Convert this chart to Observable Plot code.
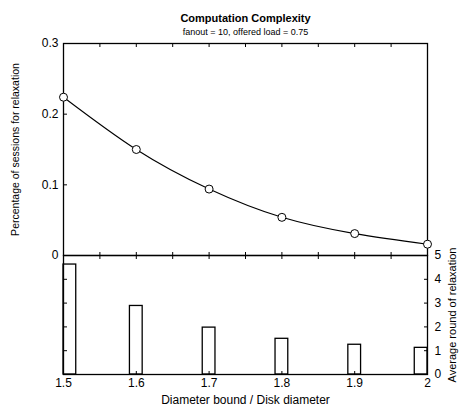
<!DOCTYPE html>
<html>
<head>
<meta charset="utf-8">
<script src="https://cdn.jsdelivr.net/npm/d3@7"></script>
<script src="https://cdn.jsdelivr.net/npm/@observablehq/plot@0.6"></script>
<style>
  html, body { margin: 0; padding: 0; background: white; }
  #wrap { position: relative; width: 459px; height: 414px; overflow: hidden; background: white; }
  #wrap svg { position: absolute; left: 0; background: transparent; }
</style>
</head>
<body>
<div id="wrap"></div>
<script>
const title = "Computation Complexity";
const subtitle = "fanout = 10, offered load = 0.75";
const xLabel = "Diameter bound / Disk diameter";
const yLabelTop = "Percentage of sessions for relaxation";
const yLabelBottom = "Average round of relaxation";

const bounds = [1.5, 1.6, 1.7, 1.8, 1.9, 2.0];
const pctSessions = [0.224, 0.150, 0.094, 0.054, 0.031, 0.016];
const avgRounds = [4.62, 2.88, 1.97, 1.50, 1.25, 1.12];

const xTicks = [1.5, 1.6, 1.7, 1.8, 1.9, 2];
const xMinorTicks = [1.55, 1.6, 1.65, 1.7, 1.75, 1.8, 1.85, 1.9, 1.95];
const yTicksTop = [0, 0.1, 0.2, 0.3];
const yTicksBottom = [0, 1, 2, 3, 4, 5];

const font = "'Liberation Sans', Arial, Helvetica, sans-serif";
const xDomain = [1.5, 2];
const barW = 0.0175;

const pts = bounds.map((b, i) => ({x: b, y: pctSessions[i]}));
const bars = bounds.map((b, i) => {
  const x1 = Math.min(Math.max(b - barW / 2, xDomain[0]), xDomain[1] - barW);
  return {x1, x2: x1 + barW, r: avgRounds[i]};
});

const topPlot = Plot.plot({
  width: 459, height: 265,
  marginTop: 43, marginBottom: 10, marginLeft: 63, marginRight: 32,
  style: {fontFamily: font, fontSize: "12px", background: "transparent", color: "black"},
  x: {domain: xDomain},
  y: {domain: [0, 0.3]},
  marks: [
    Plot.frame({stroke: "black", strokeWidth: 1.3}),
    Plot.axisY(yTicksTop, {anchor: "left", tickSize: -4, tickPadding: 9, fontSize: 12,
      tickFormat: d => d === 0 ? "0" : d.toFixed(1), label: null}),
    Plot.axisX(xMinorTicks, {anchor: "top", tickSize: -3, tickFormat: () => "", label: null}),
    Plot.axisX(xMinorTicks, {anchor: "bottom", tickSize: -3, tickFormat: () => "", label: null}),
    Plot.line(pts, {x: "x", y: "y", curve: "natural", stroke: "black", strokeWidth: 1.1}),
    Plot.dot(pts, {x: "x", y: "y", r: 4, stroke: "black", fill: "white", strokeWidth: 1}),
    Plot.text([title], {frameAnchor: "top", dy: -29, fontWeight: "bold", fontSize: 11}),
    Plot.text([subtitle], {frameAnchor: "top", dy: -15, fontSize: 9}),
    Plot.text([yLabelTop], {frameAnchor: "left", dx: -48, rotate: -90, textAnchor: "middle", fontSize: 10.5})
  ]
});
topPlot.style.top = "0px";

const bottomPlot = Plot.plot({
  width: 459, height: 169,
  marginTop: 10, marginBottom: 40, marginLeft: 63, marginRight: 32,
  style: {fontFamily: font, fontSize: "12px", background: "transparent", color: "black"},
  x: {domain: xDomain},
  y: {domain: [0, 5]},
  marks: [
    Plot.rect(bars, {x1: "x1", x2: "x2", y1: 0, y2: "r", fill: "white", stroke: "black", strokeWidth: 1.3}),
    Plot.frame({stroke: "black", strokeWidth: 1.3}),
    Plot.axisY([1, 2, 3, 4], {anchor: "left", tickSize: -4, tickFormat: () => "", label: null}),
    Plot.axisY(yTicksBottom, {anchor: "right", tickSize: -4, tickPadding: 11, fontSize: 12, label: null}),
    Plot.axisX(xMinorTicks, {anchor: "top", tickSize: -3, tickFormat: () => "", label: null}),
    Plot.axisX(xTicks, {anchor: "bottom", tickSize: -3, tickPadding: 7, fontSize: 12,
      tickFormat: d => d === 2 ? "2" : d.toFixed(1), label: null}),
    Plot.text([xLabel], {frameAnchor: "bottom", dy: 29, fontSize: 12}),
    Plot.text([yLabelBottom], {frameAnchor: "right", dx: 25, rotate: -90, textAnchor: "middle", fontSize: 11})
  ]
});
bottomPlot.style.top = "245px";

const wrap = document.getElementById("wrap");
wrap.appendChild(topPlot);
wrap.appendChild(bottomPlot);
</script>
</body>
</html>
